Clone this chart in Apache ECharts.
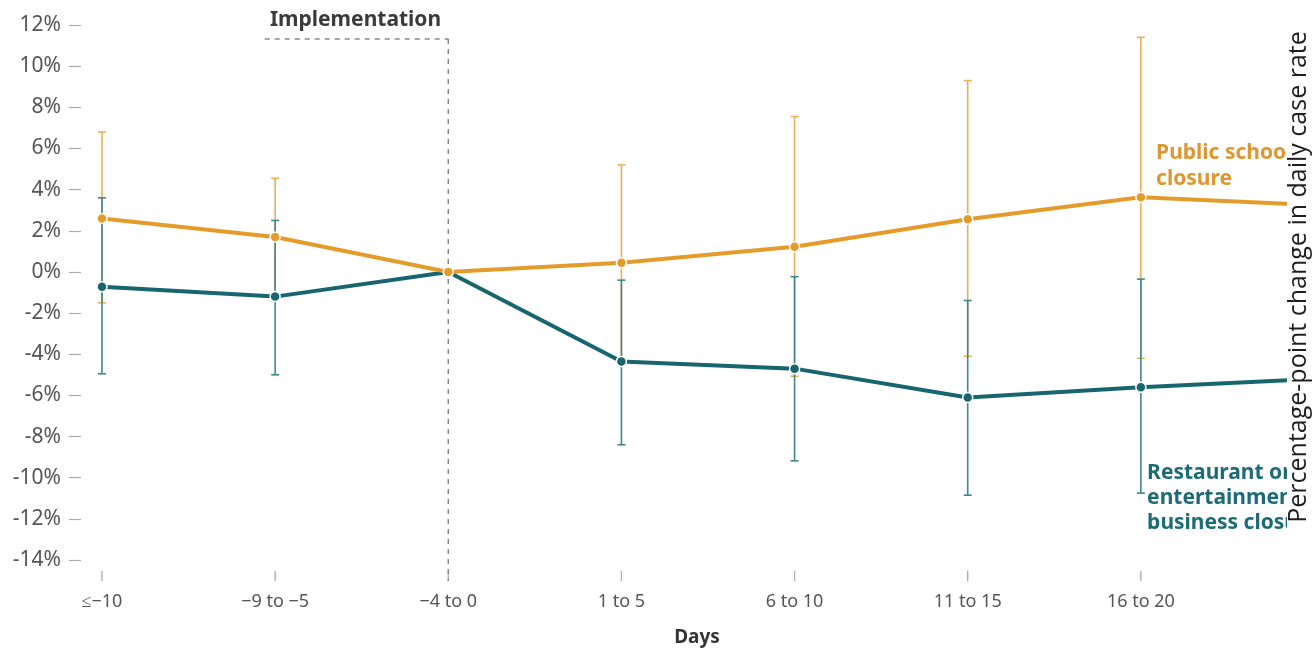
<!DOCTYPE html>
<html>
<head>
<meta charset="utf-8">
<script src="https://cdn.jsdelivr.net/npm/echarts@6/dist/echarts.min.js"></script>
<style>html,body{margin:0;padding:0;background:#fff}#c{width:1314px;height:652px}</style>
</head>
<body>
<div id="c"></div>
<script>
const categories = ['≤−10', '−9 to −5', '−4 to 0', '1 to 5', '6 to 10', '11 to 15', '16 to 20', '21 to 25'];
const schoolValues = [2.6, 1.7, 0, 0.45, 1.22, 2.56, 3.63, 3.25];
const schoolLow = [-1.5, -1.1, null, -4.2, -5.07, -4.1, -4.2, null];
const schoolHigh = [6.8, 4.55, null, 5.2, 7.55, 9.3, 11.4, null];
const restValues = [-0.72, -1.2, 0, -4.35, -4.7, -6.1, -5.6, -5.2];
const restLow = [-4.95, -5.0, null, -8.4, -9.18, -10.85, -10.75, null];
const restHigh = [3.6, 2.5, null, -0.4, -0.23, -1.39, -0.35, null];
const yTicks = { min: -14, max: 12, interval: 2 };
const implementation = { category: 2, top: 11.32, startOffset: 1.06 };
const implementationLabel = 'Implementation';
const schoolLabel = 'Public school\nclosure';
const restLabel = 'Restaurant or\nentertainment\nbusiness closure';
const yTitle = 'Percentage-point change in daily case rate';
const xTitle = 'Days';

const ORANGE = '#E59B2A';
const ORANGE_BAR = '#E8B055';
const TEAL = '#17666F';
const TEAL_BAR = '#3E8790';
const FONT = 'Noto Sans';

function errData(low, high) {
  const out = [];
  low.forEach((l, i) => { if (l != null && high[i] != null) out.push([i, l, high[i]]); });
  return out;
}
function errRender(color) {
  return function (params, api) {
    const x = api.value(0);
    const lo = api.coord([x, api.value(1)]);
    const hi = api.coord([x, api.value(2)]);
    const w = 4;
    const style = { stroke: color, lineWidth: 1.6 };
    return {
      type: 'group',
      children: [
        { type: 'line', shape: { x1: lo[0], y1: lo[1], x2: hi[0], y2: hi[1] }, style },
        { type: 'line', shape: { x1: lo[0] - w, y1: lo[1], x2: lo[0] + w, y2: lo[1] }, style },
        { type: 'line', shape: { x1: hi[0] - w, y1: hi[1], x2: hi[0] + w, y2: hi[1] }, style }
      ]
    };
  };
}
function tickRender(params, api) {
  const p = api.coord([api.value(0), yTicks.min]);
  return {
    type: 'line',
    shape: { x1: p[0], y1: p[1] + 11, x2: p[0], y2: p[1] + 21 },
    style: { stroke: '#aaa', lineWidth: 1.3 }
  };
}
function implRender(params, api) {
  const c = api.value(0);
  const top = api.coord([c, api.value(1)]);
  const bottom = api.coord([c, yTicks.min]);
  const next = api.coord([c + 1, api.value(1)]);
  const band = next[0] - top[0];
  const startX = top[0] - implementation.startOffset * band;
  const style = { stroke: '#888', lineWidth: 1.5, lineDash: [5, 5] };
  return {
    type: 'group',
    children: [
      { type: 'line', shape: { x1: top[0], y1: top[1], x2: top[0], y2: bottom[1] + 21 }, style },
      { type: 'line', shape: { x1: startX, y1: top[1], x2: top[0], y2: top[1] }, style },
      {
        type: 'text',
        x: (startX + top[0]) / 2 - 1,
        y: top[1] - 8,
        style: {
          text: implementationLabel, fill: '#3a3a3a',
          font: 'bold 21px "Noto Sans"', align: 'center', verticalAlign: 'bottom'
        }
      }
    ]
  };
}

const chart = echarts.init(document.getElementById('c'), null, { renderer: 'canvas' });
const lastIdx = categories.length - 1;

chart.setOption({
  animation: false,
  textStyle: { fontFamily: FONT },
  grid: { left: 102, right: -2.5, top: 25, bottom: 90, containLabel: false },
  xAxis: {
    type: 'category',
    data: categories,
    boundaryGap: false,
    offset: 11,
    axisLine: { show: false },
    axisTick: { show: false },
    axisLabel: { color: '#555', fontSize: 18, margin: 22, fontFamily: FONT, interval: (i) => i < lastIdx },
    splitLine: { show: false },
    name: xTitle,
    nameLocation: 'middle',
    nameGap: 57,
    nameTextStyle: { color: '#333', fontSize: 19, fontWeight: 'bold', fontFamily: FONT, padding: [0, 22, 0, 0] }
  },
  yAxis: {
    type: 'value',
    min: yTicks.min,
    max: yTicks.max,
    interval: yTicks.interval,
    offset: 21,
    axisLine: { show: false },
    axisTick: { show: true, length: 12, lineStyle: { color: '#aaa', width: 1.2 } },
    axisLabel: { color: '#555', fontSize: 21, margin: 20, fontFamily: FONT, formatter: '{value}%' },
    splitLine: { show: false }
  },
  series: [
    {
      type: 'custom',
      name: 'xTicks',
      renderItem: tickRender,
      data: categories.slice(0, lastIdx).map((c, i) => [i]),
      z: 1,
      silent: true,
      clip: false
    },
    {
      type: 'custom',
      name: 'implementation',
      renderItem: implRender,
      data: [[implementation.category, implementation.top]],
      z: 1,
      silent: true,
      clip: false
    },
    {
      type: 'custom',
      name: 'schoolErr',
      renderItem: errRender(ORANGE_BAR),
      data: errData(schoolLow, schoolHigh),
      z: 2,
      silent: true
    },
    {
      type: 'custom',
      name: 'restErr',
      renderItem: errRender(TEAL_BAR),
      data: errData(restLow, restHigh),
      z: 2,
      silent: true
    },
    {
      type: 'line',
      name: 'Public school closure',
      data: schoolValues.map((v, i) => i === 6 ? {
        value: v,
        label: {
          show: true, position: [21, -51], formatter: schoolLabel, align: 'left',
          color: '#DE9630', fontSize: 21, fontWeight: 'bold', lineHeight: 26, fontFamily: FONT
        }
      } : v),
      z: 4,
      symbol: 'circle',
      symbolSize: 10,
      lineStyle: { color: ORANGE, width: 4 },
      itemStyle: { color: ORANGE, borderColor: '#fff', borderWidth: 1.5 },
      label: { show: false }
    },
    {
      type: 'line',
      name: 'Restaurant or entertainment business closure',
      data: restValues.map((v, i) => i === 6 ? {
        value: v,
        label: {
          show: true, position: [12, 79], formatter: restLabel, align: 'left',
          color: '#1C6B76', fontSize: 21, fontWeight: 'bold', lineHeight: 25, fontFamily: FONT
        }
      } : v),
      z: 3,
      symbol: 'circle',
      symbolSize: 10,
      lineStyle: { color: TEAL, width: 4 },
      itemStyle: { color: TEAL, borderColor: '#fff', borderWidth: 1.5 },
      label: { show: false }
    }
  ],
  graphic: [
    {
      type: 'rect',
      z: 100,
      zlevel: 2,
      shape: { x: 1287, y: 20, width: 30, height: 520 },
      style: { fill: '#fff' }
    },
    {
      type: 'text',
      z: 101,
      zlevel: 2,
      x: 1299,
      y: 277,
      rotation: Math.PI / 2,
      style: {
        text: yTitle,
        font: '25px "Open Sans"',
        fill: '#1e1e1e',
        align: 'center',
        verticalAlign: 'middle'
      }
    }
  ]
});
</script>
</body>
</html>
